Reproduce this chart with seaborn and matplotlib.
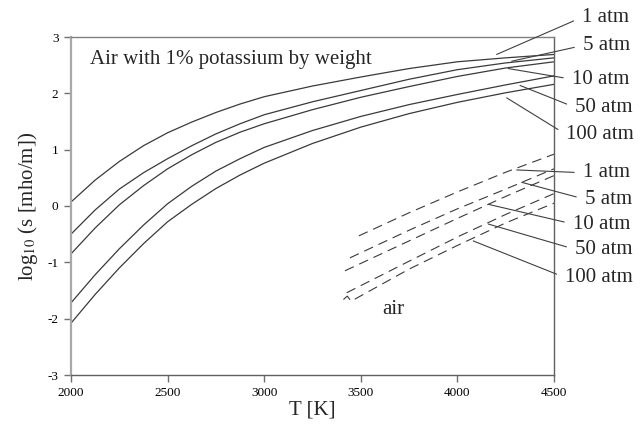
import numpy as np
import pandas as pd
import matplotlib
matplotlib.use("Agg")
import matplotlib.pyplot as plt
import seaborn as sns

# ---------------- data ----------------
T_seed = [2000, 2125, 2250, 2375, 2500, 2625, 2750, 2875, 3000,
          3250, 3500, 3750, 4000, 4250, 4500]
seed_1atm = [0.07, 0.46, 0.79, 1.07, 1.30, 1.49, 1.66, 1.81, 1.94,
             2.13, 2.29, 2.44, 2.56, 2.63, 2.69]
seed_5atm = [-0.50, -0.07, 0.30, 0.59, 0.84, 1.07, 1.28, 1.46, 1.62,
             1.85, 2.05, 2.25, 2.42, 2.54, 2.63]
seed_10atm = [-0.85, -0.39, 0.02, 0.36, 0.66, 0.91, 1.13, 1.31, 1.46,
              1.71, 1.93, 2.12, 2.30, 2.45, 2.56]
seed_50atm = [-1.72, -1.22, -0.76, -0.34, 0.04, 0.35, 0.62, 0.84, 1.04,
              1.34, 1.59, 1.80, 1.98, 2.15, 2.31]
seed_100atm = [-2.08, -1.57, -1.10, -0.67, -0.28, 0.03, 0.31, 0.55, 0.76,
               1.11, 1.40, 1.64, 1.84, 2.01, 2.16]

T_air_1 = [3490, 3750, 4000, 4250, 4500]
air_1atm = [-0.53, -0.12, 0.25, 0.60, 0.92]
T_air_5 = [3444, 3750, 4000, 4250, 4500]
air_5atm = [-0.92, -0.43, -0.05, 0.30, 0.66]
T_air_10 = [3418, 3750, 4000, 4250, 4500]
air_10atm = [-1.15, -0.62, -0.22, 0.17, 0.54]
T_air_50 = [3427, 3750, 4000, 4250, 4500]
air_50atm = [-1.54, -0.98, -0.55, -0.15, 0.22]
T_air_100 = [3410, 3430, 3450, 3750, 4000, 4250, 4500]
air_100atm = [-1.66, -1.60, -1.69, -1.12, -0.70, -0.30, 0.05]

pressure_labels = ["1 atm", "5 atm", "10 atm", "50 atm", "100 atm"]
x_ticks = [2000, 2500, 3000, 3500, 4000, 4500]
y_ticks = [-3, -2, -1, 0, 1, 2, 3]

# annotation anchors (point on curve, text position) in data units
seed_anchor = [(4203, 2.69), (4281, 2.57), (4263, 2.44), (4324, 2.14), (4255, 1.92)]
seed_text = [(4645, 3.35), (4650, 2.85), (4593, 2.25), (4609, 1.75), (4562, 1.27)]
air_anchor = [(4307, 0.64), (4333, 0.42), (4160, 0.03), (4160, -0.32), (4082, -0.62)]
air_text = [(4650, 0.59), (4660, 0.12), (4598, -0.32), (4609, -0.77), (4557, -1.27)]

# ---------------- build long tables ----------------
seed_vals = [seed_1atm, seed_5atm, seed_10atm, seed_50atm, seed_100atm]
air_T = [T_air_1, T_air_5, T_air_10, T_air_50, T_air_100]
air_vals = [air_1atm, air_5atm, air_10atm, air_50atm, air_100atm]

seed_df = pd.concat([pd.DataFrame({"T": T_seed, "v": v, "p": lab})
                     for v, lab in zip(seed_vals, pressure_labels)])
air_df = pd.concat([pd.DataFrame({"T": t, "v": v, "p": lab})
                    for t, v, lab in zip(air_T, air_vals, pressure_labels)])

# ---------------- style ----------------
sns.set_theme(style="white")
plt.rcParams["font.family"] = ["Liberation Serif", "DejaVu Serif"]
plt.rcParams["mathtext.fontset"] = "stix"
plt.rcParams["lines.scale_dashes"] = False

fig = plt.figure(figsize=(6.41, 4.32), dpi=100)
ax = fig.add_axes([71 / 641, 1 - 375 / 432, 483 / 641, 338 / 432])

line_col = "#3a3a3a"
pal = {lab: line_col for lab in pressure_labels}

sns.lineplot(data=seed_df, x="T", y="v", hue="p", palette=pal, units="p",
             estimator=None, sort=False, legend=False, lw=0.9, ax=ax)
n_seed = len(ax.lines)
sns.lineplot(data=air_df, x="T", y="v", hue="p", palette=pal, units="p",
             estimator=None, sort=False, legend=False, lw=0.8, ax=ax)
for ln in ax.lines[n_seed:]:
    ln.set_linestyle((0, (7.0, 4.3)))

ax.set_xlim(2000, 4500)
ax.set_ylim(-3, 3)
ax.set_xticks(x_ticks)
ax.set_yticks(y_ticks)
ax.set_xticklabels([str(t) for t in x_ticks])
ax.set_yticklabels([str(t) for t in y_ticks])
ax.tick_params(axis="both", which="both", direction="out", length=5, width=1,
               color="#707070", labelsize=9.5, labelcolor="black", pad=4,
               bottom=True, left=True, top=False, right=False)

for side, col, w in [("left", "#a8a8a8", 1.6), ("bottom", "#606060", 1.0),
                     ("top", "#808080", 1.0), ("right", "#606060", 1.0)]:
    ax.spines[side].set_visible(True)
    ax.spines[side].set_color(col)
    ax.spines[side].set_linewidth(w)

ax.set_xlabel("T [K]", fontsize=15, labelpad=1)
ax.set_ylabel("log$_{10}$ (s [mho/m])", fontsize=15, labelpad=5)

ax.text(2098, 2.60, "Air with 1% potassium by weight", fontsize=15,
        ha="left", va="center")
ax.text(3667, -1.83, "air", fontsize=15, ha="center", va="center")

arrow = dict(arrowstyle="-", lw=0.8, color="#404040", shrinkA=4, shrinkB=0,
             relpos=(0, 0.5))
for lab, xy, xt in zip(pressure_labels, seed_anchor, seed_text):
    ax.annotate(lab, xy=xy, xytext=xt, textcoords="data", fontsize=15,
                ha="left", va="center", arrowprops=arrow, annotation_clip=False)
for lab, xy, xt in zip(pressure_labels, air_anchor, air_text):
    ax.annotate(lab, xy=xy, xytext=xt, textcoords="data", fontsize=15,
                ha="left", va="center", arrowprops=arrow, annotation_clip=False)

fig.savefig("out.png", dpi=100)
